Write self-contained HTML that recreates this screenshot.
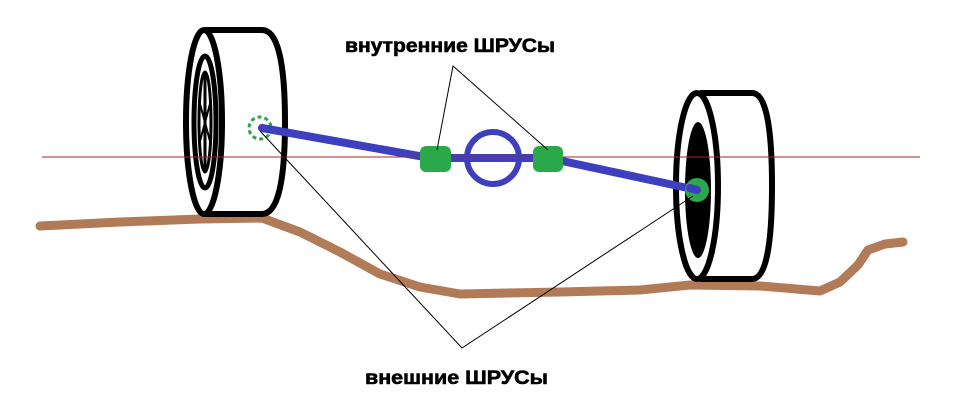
<!DOCTYPE html>
<html><head><meta charset="utf-8"><style>html,body{margin:0;padding:0;background:#fff}svg{display:block}</style></head>
<body>
<svg width="964" height="412" viewBox="0 0 964 412" xmlns="http://www.w3.org/2000/svg">
<rect width="964" height="412" fill="#fff"/>
<polyline points="40,226 120,222 200,219 262,218 300,232 340,252 380,274 420,287 460,294 560,292 640,290 690,285 760,286 820,291 840,282 858,265 868,250 885,244 903,242" fill="none" stroke="#b27b57" stroke-width="9" stroke-linecap="round" stroke-linejoin="round"/>
<path d="M205,30 L262,30 Q285,30 285,122 Q285,214 262,214 L205,214" fill="#fff" stroke="#000" stroke-width="6"/>
<ellipse cx="204" cy="122" rx="18" ry="92" fill="#fff" stroke="#000" stroke-width="6"/>
<ellipse cx="205" cy="122" rx="11" ry="66" fill="none" stroke="#000" stroke-width="5"/>
<ellipse cx="205" cy="122" rx="6" ry="50" fill="none" stroke="#000" stroke-width="3"/>
<line x1="205" y1="72" x2="205" y2="172" stroke="#000" stroke-width="3"/>
<line x1="199" y1="100" x2="211" y2="145" stroke="#000" stroke-width="2"/>
<line x1="211" y1="100" x2="199" y2="145" stroke="#000" stroke-width="2"/>
<circle cx="260" cy="128" r="11" fill="none" stroke="#2aa84a" stroke-width="3" stroke-dasharray="4,3"/>
<path d="M700,93 L752,93 Q772,93 772,186 Q772,279 752,279 L700,279" fill="#fff" stroke="#000" stroke-width="6"/>
<ellipse cx="697" cy="186" rx="21" ry="93" fill="#fff" stroke="#000" stroke-width="6"/>
<ellipse cx="698" cy="190" rx="13" ry="68" fill="#000"/>
<line x1="42" y1="157" x2="920" y2="157" stroke="#a0282a" stroke-width="1"/>
<polyline points="262,128 430,158 548,158 697,190" fill="none" stroke="#3d3fbf" stroke-width="8" stroke-linecap="round"/>
<circle cx="493" cy="158" r="26" fill="none" stroke="#3d3fbf" stroke-width="6"/>
<line x1="42" y1="157" x2="920" y2="157" stroke="#a0282a" stroke-width="1" opacity="0.6"/>
<rect x="420" y="146" width="31" height="26" rx="6" fill="#2aa84a"/>
<rect x="533" y="146" width="30" height="26" rx="6" fill="#2aa84a"/>
<circle cx="697" cy="190" r="12" fill="#2aa84a"/>
<line x1="690" y1="188" x2="697" y2="190" stroke="#3d3fbf" stroke-width="8" stroke-linecap="round"/>
<polyline points="437,150 453,66 548,150" fill="none" stroke="#000" stroke-width="1"/>
<polyline points="260,131 462,348 693,196" fill="none" stroke="#000" stroke-width="1"/>
<text x="345" y="52" textLength="210" lengthAdjust="spacingAndGlyphs" font-family="Liberation Sans, sans-serif" font-weight="bold" font-size="19" stroke="#000" stroke-width="0.6">внутренние ШРУСы</text>
<text x="365" y="384" textLength="183" lengthAdjust="spacingAndGlyphs" font-family="Liberation Sans, sans-serif" font-weight="bold" font-size="19" stroke="#000" stroke-width="0.6">внешние ШРУСы</text>
</svg>
</body></html>
